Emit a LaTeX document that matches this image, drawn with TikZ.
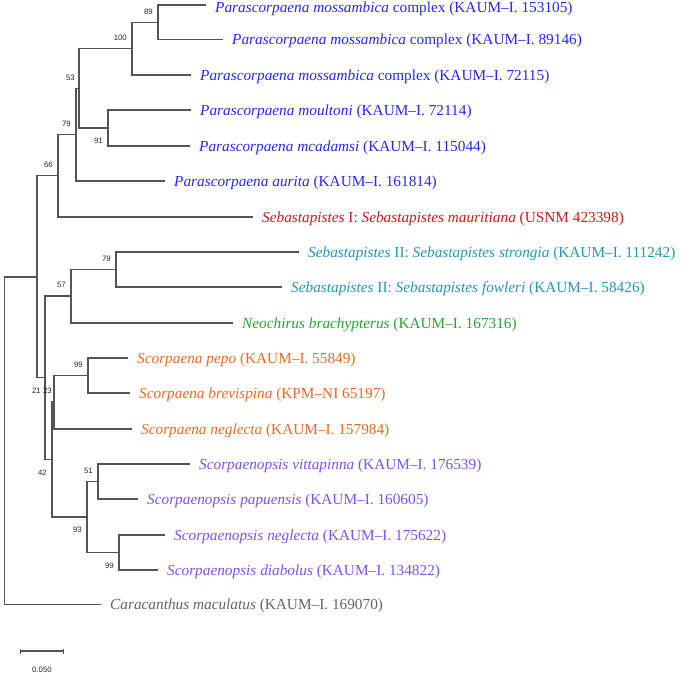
\documentclass[tikz,border=0pt]{standalone}
\usepackage{fontspec}
\setmainfont{Liberation Serif}
\newfontfamily\bsfont{Liberation Sans}
\usepackage{xcolor}
\usetikzlibrary{positioning, arrows.meta}
\definecolor{parblue}{RGB}{40,40,245}
\definecolor{sebred}{RGB}{205,25,25}
\definecolor{sebteal}{RGB}{35,150,185}
\definecolor{neogreen}{RGB}{40,165,45}
\definecolor{scorange}{RGB}{238,105,35}
\definecolor{scviolet}{RGB}{128,80,245}
\definecolor{cargray}{RGB}{100,100,100}
\definecolor{branchgray}{RGB}{85,85,85}
\tikzstyle{branch} = [draw=branchgray, line width=1.1pt]

\begin{document}
\begin{tikzpicture}[
    x=1pt, y=-1pt,
    leaf/.style={anchor=west, inner sep=1pt, yshift=-1.5pt, font=\fontsize{15.3}{18}\selectfont},
    bs/.style={inner sep=0pt, font=\bsfont\fontsize{7.8}{9}\selectfont, text=black!85},
    node distance=8pt
  ]
    \useasboundingbox (0,0) rectangle (685,676);

    % leaf tips
    \coordinate (l1) at (206,5);
    \coordinate (l2) at (223,39.5);
    \coordinate (l3) at (191,75);
    \coordinate (l4) at (191,110);
    \coordinate (l5) at (190,146);
    \coordinate (l6) at (165,181);
    \coordinate (l7) at (253,217);
    \coordinate (l8) at (299,252);
    \coordinate (l9) at (282,287);
    \coordinate (l10) at (233,323);
    \coordinate (l11) at (128,358);
    \coordinate (l12) at (130,393);
    \coordinate (l13) at (132,429);
    \coordinate (l14) at (190,464);
    \coordinate (l15) at (138,499);
    \coordinate (l16) at (165,535);
    \coordinate (l17) at (158,570);
    \coordinate (l18) at (101,604.5);

    % inner nodes
    \coordinate (n89) at (158,22.3);
    \coordinate (n100) at (132,48.6);
    \coordinate (n91) at (108,128);
    \coordinate (n53) at (79,88.3);
    \coordinate (n79a) at (76,134.7);
    \coordinate (n66) at (58,175.8);
    \coordinate (nA) at (37,277);
    \coordinate (n79b) at (116,269.5);
    \coordinate (n57) at (71,296);
    \coordinate (n99a) at (88,375.5);
    \coordinate (n23) at (54,402);
    \coordinate (n51) at (98,481.5);
    \coordinate (n99b) at (119,552.5);
    \coordinate (n93) at (87,517);
    \coordinate (n42) at (52,459.5);
    \coordinate (n21) at (45,377.7);
    \coordinate (root) at (4.5,440.7);

    % branches
    \draw[branch] (n89) |- (l1) (n89) |- (l2);
    \draw[branch] (n100) |- (n89) (n100) |- (l3);
    \draw[branch] (n91) |- (l4) (n91) |- (l5);
    \draw[branch] (n53) |- (n100) (n53) |- (n91);
    \draw[branch] (n79a) |- (n53) (n79a) |- (l6);
    \draw[branch] (n66) |- (n79a) (n66) |- (l7);
    \draw[branch] (n79b) |- (l8) (n79b) |- (l9);
    \draw[branch] (n57) |- (n79b) (n57) |- (l10);
    \draw[branch] (n99a) |- (l11) (n99a) |- (l12);
    \draw[branch] (n23) |- (n99a) (n23) |- (l13);
    \draw[branch] (n51) |- (l14) (n51) |- (l15);
    \draw[branch] (n99b) |- (l16) (n99b) |- (l17);
    \draw[branch] (n93) |- (n51) (n93) |- (n99b);
    \draw[branch] (n42) |- (n23) (n42) |- (n93);
    \draw[branch] (n21) |- (n57) (n21) |- (n42);
    \draw[branch] (nA) |- (n66) (nA) |- (n21);
    \draw[branch] (root) |- (nA) (root) |- (l18);

    % taxa
    \node[leaf, right=8pt of l1, yshift=-2pt, text=parblue] (t1) {\textit{Parascorpaena mossambica} complex (KAUM--I. 153105)};
    \node[leaf, right=8pt of l2, text=parblue] (t2) {\textit{Parascorpaena mossambica} complex (KAUM--I. 89146)};
    \node[leaf, right=8pt of l3, text=parblue] (t3) {\textit{Parascorpaena mossambica} complex (KAUM--I. 72115)};
    \node[leaf, right=8pt of l4, text=parblue] (t4) {\textit{Parascorpaena moultoni} (KAUM--I. 72114)};
    \node[leaf, right=8pt of l5, text=parblue] (t5) {\textit{Parascorpaena mcadamsi} (KAUM--I. 115044)};
    \node[leaf, right=8pt of l6, text=parblue] (t6) {\textit{Parascorpaena aurita} (KAUM--I. 161814)};
    \node[leaf, right=8pt of l7, text=sebred] (t7) {\textit{Sebastapistes} I: \textit{Sebastapistes mauritiana} (USNM 423398)};
    \node[leaf, right=8pt of l8, text=sebteal] (t8) {\textit{Sebastapistes} II: \textit{Sebastapistes strongia} (KAUM--I. 111242)};
    \node[leaf, right=8pt of l9, text=sebteal] (t9) {\textit{Sebastapistes} II: \textit{Sebastapistes fowleri} (KAUM--I. 58426)};
    \node[leaf, right=8pt of l10, text=neogreen] (t10) {\textit{Neochirus brachypterus} (KAUM--I. 167316)};
    \node[leaf, right=8pt of l11, text=scorange] (t11) {\textit{Scorpaena pepo} (KAUM--I. 55849)};
    \node[leaf, right=8pt of l12, text=scorange] (t12) {\textit{Scorpaena brevispina} (KPM--NI 65197)};
    \node[leaf, right=8pt of l13, text=scorange] (t13) {\textit{Scorpaena neglecta} (KAUM--I. 157984)};
    \node[leaf, right=8pt of l14, text=scviolet] (t14) {\textit{Scorpaenopsis vittapinna} (KAUM--I. 176539)};
    \node[leaf, right=8pt of l15, text=scviolet] (t15) {\textit{Scorpaenopsis papuensis} (KAUM--I. 160605)};
    \node[leaf, right=8pt of l16, text=scviolet] (t16) {\textit{Scorpaenopsis neglecta} (KAUM--I. 175622)};
    \node[leaf, right=8pt of l17, text=scviolet] (t17) {\textit{Scorpaenopsis diabolus} (KAUM--I. 134822)};
    \node[leaf, right=8pt of l18, text=cargray] (t18) {\textit{Caracanthus maculatus} (KAUM--I. 169070)};

    % bootstrap values
    \node[bs, above left=8pt and 5pt of n89] (b89) {89};
    \node[bs, above left=8pt and 5pt of n100] (b100) {100};
    \node[bs, above left=8pt and 4pt of n53] (b53) {53};
    \node[bs, below left=10pt and 5pt of n91] (b91) {91};
    \node[bs, above left=8pt and 5pt of n79a] (b79a) {79};
    \node[bs, above left=8pt and 5pt of n66] (b66) {66};
    \node[bs, above left=8pt and 5pt of n79b] (b79b) {79};
    \node[bs, above left=8pt and 5pt of n57] (b57) {57};
    \node[bs, above left=8pt and 5pt of n99a] (b99a) {99};
    \node[bs, below left=10.5pt and 4pt of n21] (b21) {21};
    \node[bs, above left=8pt and 2pt of n23] (b23) {23};
    \node[bs, below left=10.5pt and 5pt of n42] (b42) {42};
    \node[bs, above left=8pt and 5pt of n51] (b51) {51};
    \node[bs, below left=10pt and 5pt of n93] (b93) {93};
    \node[bs, below left=10.5pt and 5pt of n99b] (b99b) {99};

    % scale bar
    \coordinate (s0) at (20,651);
    \coordinate (s1) at (64,651);
    \coordinate (smid) at (42,651);
    \draw[branch, {Bar[width=5pt]}-{Bar[width=5pt]}] (s0) -- (s1);
    \node[bs, below=16pt of smid] (slabel) {0.050};
\end{tikzpicture}
\end{document}
